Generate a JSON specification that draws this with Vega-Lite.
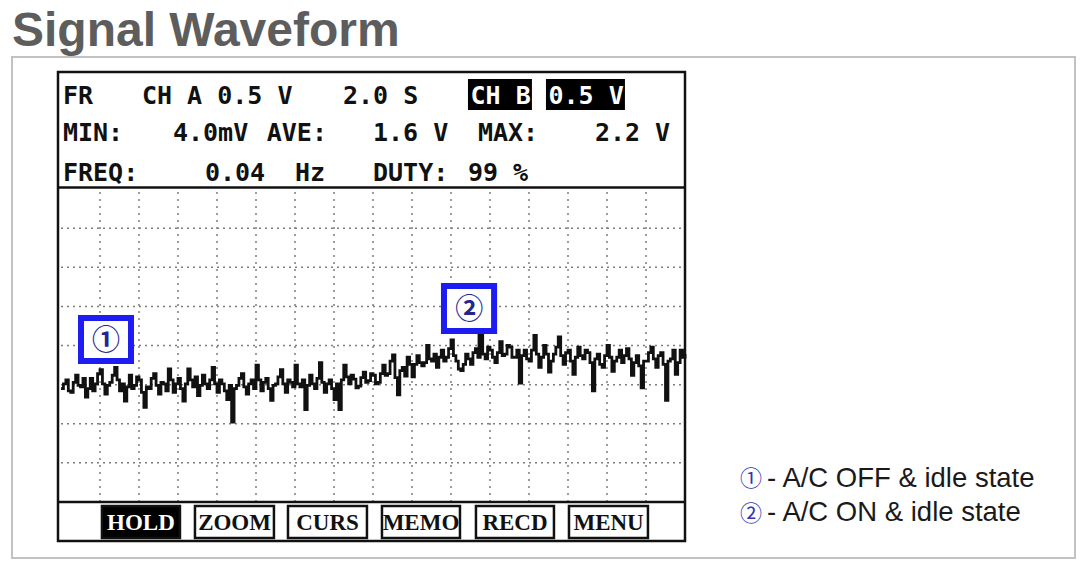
{
  "$schema": "https://vega.github.io/schema/vega-lite/v6.json",
  "width": 1063,
  "height": 501,
  "autosize": {"type": "none"},
  "padding": {"left": 12, "top": 57, "right": 11, "bottom": 12},
  "background": "white",
  "config": {"view": {"stroke": "#c2c2c2", "strokeWidth": 2}},
  "title": {"text": "Signal Waveform", "anchor": "start", "frame": "group", "fontSize": 48, "font": "Liberation Sans", "fontWeight": "bold", "color": "#5d5d5d", "offset": 1},
  "datasets": {
    "wave": [
      {"t":0.0,"v":1.45},{"t":0.125,"v":1.51},{"t":0.25,"v":1.56},{"t":0.375,"v":1.42},{"t":0.5,"v":1.40},{"t":0.625,"v":1.53},{"t":0.75,"v":1.62},{"t":0.875,"v":1.49},
      {"t":1.0,"v":1.47},{"t":1.125,"v":1.58},{"t":1.25,"v":1.34},{"t":1.375,"v":1.45},{"t":1.5,"v":1.58},{"t":1.625,"v":1.42},{"t":1.75,"v":1.51},{"t":1.875,"v":1.64},
      {"t":2.0,"v":1.69},{"t":2.125,"v":1.51},{"t":2.25,"v":1.38},{"t":2.375,"v":1.49},{"t":2.5,"v":1.53},{"t":2.625,"v":1.62},{"t":2.75,"v":1.72},{"t":2.875,"v":1.56},
      {"t":3.0,"v":1.42},{"t":3.125,"v":1.51},{"t":3.25,"v":1.29},{"t":3.375,"v":1.47},{"t":3.5,"v":1.62},{"t":3.625,"v":1.45},{"t":3.75,"v":1.49},{"t":3.875,"v":1.60},
      {"t":4.0,"v":1.56},{"t":4.125,"v":1.40},{"t":4.25,"v":1.21},{"t":4.375,"v":1.47},{"t":4.5,"v":1.45},{"t":4.625,"v":1.58},{"t":4.75,"v":1.64},{"t":4.875,"v":1.49},
      {"t":5.0,"v":1.38},{"t":5.125,"v":1.53},{"t":5.25,"v":1.51},{"t":5.375,"v":1.42},{"t":5.5,"v":1.70},{"t":5.625,"v":1.56},{"t":5.75,"v":1.40},{"t":5.875,"v":1.51},
      {"t":6.0,"v":1.58},{"t":6.125,"v":1.45},{"t":6.25,"v":1.29},{"t":6.375,"v":1.51},{"t":6.5,"v":1.70},{"t":6.625,"v":1.56},{"t":6.75,"v":1.47},{"t":6.875,"v":1.60},
      {"t":7.0,"v":1.36},{"t":7.125,"v":1.49},{"t":7.25,"v":1.62},{"t":7.375,"v":1.51},{"t":7.5,"v":1.45},{"t":7.625,"v":1.56},{"t":7.75,"v":1.72},{"t":7.875,"v":1.51},
      {"t":8.0,"v":1.40},{"t":8.125,"v":1.56},{"t":8.25,"v":1.51},{"t":8.375,"v":1.42},{"t":8.5,"v":1.31},{"t":8.625,"v":1.49},{"t":8.75,"v":1.02},{"t":8.875,"v":1.45},
      {"t":9.0,"v":1.49},{"t":9.125,"v":1.58},{"t":9.25,"v":1.64},{"t":9.375,"v":1.47},{"t":9.5,"v":1.38},{"t":9.625,"v":1.51},{"t":9.75,"v":1.56},{"t":9.875,"v":1.45},
      {"t":10.0,"v":1.75},{"t":10.125,"v":1.56},{"t":10.25,"v":1.42},{"t":10.375,"v":1.53},{"t":10.5,"v":1.58},{"t":10.625,"v":1.45},{"t":10.75,"v":1.30},{"t":10.875,"v":1.49},
      {"t":11.0,"v":1.51},{"t":11.125,"v":1.60},{"t":11.25,"v":1.69},{"t":11.375,"v":1.51},{"t":11.5,"v":1.40},{"t":11.625,"v":1.56},{"t":11.75,"v":1.53},{"t":11.875,"v":1.47},
      {"t":12.0,"v":1.75},{"t":12.125,"v":1.51},{"t":12.25,"v":1.47},{"t":12.375,"v":1.56},{"t":12.5,"v":1.18},{"t":12.625,"v":1.49},{"t":12.75,"v":1.62},{"t":12.875,"v":1.51},
      {"t":13.0,"v":1.45},{"t":13.125,"v":1.58},{"t":13.25,"v":1.78},{"t":13.375,"v":1.53},{"t":13.5,"v":1.40},{"t":13.625,"v":1.51},{"t":13.75,"v":1.56},{"t":13.875,"v":1.45},
      {"t":14.0,"v":1.31},{"t":14.125,"v":1.51},{"t":14.25,"v":1.18},{"t":14.375,"v":1.56},{"t":14.5,"v":1.75},{"t":14.625,"v":1.60},{"t":14.75,"v":1.51},{"t":14.875,"v":1.62},
      {"t":15.0,"v":1.57},{"t":15.125,"v":1.46},{"t":15.25,"v":1.48},{"t":15.375,"v":1.59},{"t":15.5,"v":1.66},{"t":15.625,"v":1.53},{"t":15.75,"v":1.55},{"t":15.875,"v":1.64},
      {"t":16.0,"v":1.62},{"t":16.125,"v":1.51},{"t":16.25,"v":1.53},{"t":16.375,"v":1.64},{"t":16.5,"v":1.75},{"t":16.625,"v":1.62},{"t":16.75,"v":1.64},{"t":16.875,"v":1.80},
      {"t":17.0,"v":1.88},{"t":17.125,"v":1.59},{"t":17.25,"v":1.37},{"t":17.375,"v":1.68},{"t":17.5,"v":1.72},{"t":17.625,"v":1.61},{"t":17.75,"v":1.85},{"t":17.875,"v":1.76},
      {"t":18.0,"v":1.60},{"t":18.125,"v":1.76},{"t":18.25,"v":1.87},{"t":18.375,"v":1.78},{"t":18.5,"v":1.74},{"t":18.625,"v":1.78},{"t":18.75,"v":2.00},{"t":18.875,"v":1.83},
      {"t":19.0,"v":1.80},{"t":19.125,"v":1.89},{"t":19.25,"v":1.72},{"t":19.375,"v":1.85},{"t":19.5,"v":1.94},{"t":19.625,"v":1.80},{"t":19.75,"v":1.85},{"t":19.875,"v":1.96},
      {"t":20.0,"v":2.07},{"t":20.125,"v":1.87},{"t":20.25,"v":1.80},{"t":20.375,"v":1.70},{"t":20.5,"v":1.68},{"t":20.625,"v":1.76},{"t":20.75,"v":1.89},{"t":20.875,"v":1.83},
      {"t":21.0,"v":1.76},{"t":21.125,"v":1.91},{"t":21.25,"v":1.96},{"t":21.375,"v":1.85},{"t":21.5,"v":2.13},{"t":21.625,"v":1.89},{"t":21.75,"v":1.83},{"t":21.875,"v":1.98},
      {"t":22.0,"v":1.94},{"t":22.125,"v":1.85},{"t":22.25,"v":1.78},{"t":22.375,"v":1.91},{"t":22.5,"v":2.05},{"t":22.625,"v":1.87},{"t":22.75,"v":1.89},{"t":22.875,"v":2.00},
      {"t":23.0,"v":1.98},{"t":23.125,"v":1.85},{"t":23.25,"v":1.85},{"t":23.375,"v":1.94},{"t":23.5,"v":1.52},{"t":23.625,"v":1.87},{"t":23.75,"v":1.94},{"t":23.875,"v":1.83},
      {"t":24.0,"v":1.80},{"t":24.125,"v":1.94},{"t":24.25,"v":2.13},{"t":24.375,"v":1.89},{"t":24.5,"v":1.72},{"t":24.625,"v":1.85},{"t":24.75,"v":2.00},{"t":24.875,"v":1.89},
      {"t":25.0,"v":1.66},{"t":25.125,"v":1.80},{"t":25.25,"v":1.89},{"t":25.375,"v":1.98},{"t":25.5,"v":2.11},{"t":25.625,"v":1.87},{"t":25.75,"v":1.76},{"t":25.875,"v":1.91},
      {"t":26.0,"v":1.94},{"t":26.125,"v":1.80},{"t":26.25,"v":1.63},{"t":26.375,"v":1.85},{"t":26.5,"v":1.98},{"t":26.625,"v":1.87},{"t":26.75,"v":1.83},{"t":26.875,"v":1.94},
      {"t":27.0,"v":1.91},{"t":27.125,"v":1.78},{"t":27.25,"v":1.42},{"t":27.375,"v":1.83},{"t":27.5,"v":1.89},{"t":27.625,"v":1.76},{"t":27.75,"v":1.72},{"t":27.875,"v":1.87},
      {"t":28.0,"v":2.00},{"t":28.125,"v":1.85},{"t":28.25,"v":1.67},{"t":28.375,"v":1.80},{"t":28.5,"v":1.85},{"t":28.625,"v":1.94},{"t":28.75,"v":1.78},{"t":28.875,"v":1.87},
      {"t":29.0,"v":1.96},{"t":29.125,"v":1.83},{"t":29.25,"v":1.62},{"t":29.375,"v":1.78},{"t":29.5,"v":1.87},{"t":29.625,"v":1.74},{"t":29.75,"v":1.46},{"t":29.875,"v":1.80},
      {"t":30.0,"v":1.80},{"t":30.125,"v":1.91},{"t":30.25,"v":1.98},{"t":30.375,"v":1.83},{"t":30.5,"v":1.72},{"t":30.625,"v":1.87},{"t":30.75,"v":1.91},{"t":30.875,"v":1.76},
      {"t":31.0,"v":1.30},{"t":31.125,"v":1.80},{"t":31.25,"v":1.83},{"t":31.375,"v":1.94},{"t":31.5,"v":1.63},{"t":31.625,"v":1.78},{"t":31.75,"v":1.94},{"t":31.875,"v":1.85},
      {"t":32.0,"v":1.89}
    ],
    "vgrid": [
      {"t":2,"v":0,"v2":4},{"t":4,"v":0,"v2":4},{"t":6,"v":0,"v2":4},{"t":8,"v":0,"v2":4},{"t":10,"v":0,"v2":4},{"t":12,"v":0,"v2":4},{"t":14,"v":0,"v2":4},{"t":16,"v":0,"v2":4},
      {"t":18,"v":0,"v2":4},{"t":20,"v":0,"v2":4},{"t":22,"v":0,"v2":4},{"t":24,"v":0,"v2":4},{"t":26,"v":0,"v2":4},{"t":28,"v":0,"v2":4},{"t":30,"v":0,"v2":4}
    ],
    "hgrid": [
      {"t":0,"t2":32,"v":0.5},{"t":0,"t2":32,"v":1.0},{"t":0,"t2":32,"v":1.5},{"t":0,"t2":32,"v":2.0},{"t":0,"t2":32,"v":2.5},{"t":0,"t2":32,"v":3.0},{"t":0,"t2":32,"v":3.5}
    ],
    "frame": [{"t":-0.154,"t2":32.0,"v":5.495,"v2":-0.498}],
    "separators": [{"t":-0.154,"t2":32.0,"v":4.02},{"t":-0.154,"t2":32.0,"v":0.0}],
    "connector": [{"t":21.44,"v":2.185,"v2":1.90}],
    "boxes": [{"t":1.026,"t2":3.59,"v":2.351,"v2":1.802},{"t":19.64,"t2":22.21,"v":2.760,"v2":2.185}],
    "boxDigits": [{"t":2.31,"v":2.045,"text":"①"},{"t":20.93,"v":2.44,"text":"②"}],
    "header": [
      {"t":0.10,"v":5.086,"text":"FR"},{"t":4.15,"v":5.086,"text":"CH A 0.5 V"},{"t":14.46,"v":5.086,"text":"2.0 S"},
      {"t":0.10,"v":4.613,"text":"MIN:"},{"t":5.74,"v":4.613,"text":"4.0mV"},{"t":10.55,"v":4.613,"text":"AVE:"},{"t":16.0,"v":4.613,"text":"1.6 V"},{"t":21.38,"v":4.613,"text":"MAX:"},{"t":27.38,"v":4.613,"text":"2.2 V"},
      {"t":0.10,"v":4.102,"text":"FREQ:"},{"t":7.38,"v":4.102,"text":"0.04"},{"t":12.0,"v":4.102,"text":"Hz"},{"t":16.0,"v":4.102,"text":"DUTY:"},{"t":20.87,"v":4.102,"text":"99"},{"t":23.18,"v":4.102,"text":"%"}
    ],
    "inverseBoxes": [{"t":20.87,"t2":24.15,"v":5.406,"v2":5.010},{"t":24.87,"t2":28.92,"v":5.406,"v2":5.010}],
    "inverseText": [{"t":21.0,"v":5.086,"text":"CH B"},{"t":25.0,"v":5.086,"text":"0.5 V"}],
    "buttons": [
      {"label":"HOLD","t":2.10,"t2":6.10,"v":-0.051,"v2":-0.46},
      {"label":"ZOOM","t":6.87,"t2":10.92,"v":-0.051,"v2":-0.46},
      {"label":"CURS","t":11.64,"t2":15.69,"v":-0.051,"v2":-0.46},
      {"label":"MEMO","t":16.46,"t2":20.46,"v":-0.051,"v2":-0.46},
      {"label":"RECD","t":21.28,"t2":25.28,"v":-0.051,"v2":-0.46},
      {"label":"MENU","t":26.05,"t2":30.10,"v":-0.051,"v2":-0.46}
    ],
    "buttonText": [
      {"text":"HOLD","t":4.10,"v":-0.36},{"text":"ZOOM","t":8.90,"v":-0.36},{"text":"CURS","t":13.67,"v":-0.36},
      {"text":"MEMO","t":18.46,"v":-0.36},{"text":"RECD","t":23.28,"v":-0.36},{"text":"MENU","t":28.08,"v":-0.36}
    ],
    "legendDigits": [{"t":35.38,"v":0.30,"text":"①"},{"t":35.38,"v":-0.148,"text":"②"}],
    "legendText": [{"t":36.21,"v":0.192,"text":"- A/C OFF & idle state"},{"t":36.21,"v":-0.243,"text":"- A/C ON & idle state"}]
  },
  "encoding": {
    "x": {"field": "t", "type": "quantitative", "scale": {"domain": [-2.513, 52.0], "nice": false, "zero": false}, "axis": null},
    "y": {"field": "v", "type": "quantitative", "scale": {"domain": [-0.7157, 5.687], "nice": false, "zero": false}, "axis": null}
  },
  "layer": [
    {"data": {"name": "hgrid"}, "mark": {"type": "rule", "color": "#7d7d7d", "strokeWidth": 1.5, "strokeDash": [2, 4]}, "encoding": {"x2": {"field": "t2"}}},
    {"data": {"name": "vgrid"}, "mark": {"type": "rule", "color": "#7d7d7d", "strokeWidth": 1.5, "strokeDash": [2, 5]}, "encoding": {"y2": {"field": "v2"}}},
    {"data": {"name": "wave"}, "mark": {"type": "line", "interpolate": "step-after", "color": "#111111", "strokeWidth": 2.8}, "encoding": {}},
    {"data": {"name": "connector"}, "mark": {"type": "rule", "color": "#111111", "strokeWidth": 3}, "encoding": {"y2": {"field": "v2"}}},
    {"data": {"name": "boxes"}, "mark": {"type": "rect", "fill": "white", "stroke": "#1d1df2", "strokeWidth": 6}, "encoding": {"x2": {"field": "t2"}, "y2": {"field": "v2"}}},
    {"data": {"name": "boxDigits"}, "mark": {"type": "text", "font": "Noto Sans CJK KR", "fontWeight": "bold", "fontSize": 28, "color": "#25258f", "align": "center", "baseline": "middle"}, "encoding": {"text": {"field": "text"}}},
    {"data": {"name": "frame"}, "mark": {"type": "rect", "fill": null, "fillOpacity": 0, "stroke": "#111111", "strokeWidth": 2.5}, "encoding": {"x2": {"field": "t2"}, "y2": {"field": "v2"}}},
    {"data": {"name": "separators"}, "mark": {"type": "rule", "color": "#111111", "strokeWidth": 2.5}, "encoding": {"x2": {"field": "t2"}}},
    {"data": {"name": "header"}, "mark": {"type": "text", "font": "DejaVu Sans Mono", "fontWeight": "bold", "fontSize": 25, "color": "#111111", "align": "left", "baseline": "alphabetic"}, "encoding": {"text": {"field": "text"}}},
    {"data": {"name": "inverseBoxes"}, "mark": {"type": "rect", "fill": "#000000"}, "encoding": {"x2": {"field": "t2"}, "y2": {"field": "v2"}}},
    {"data": {"name": "inverseText"}, "mark": {"type": "text", "font": "DejaVu Sans Mono", "fontWeight": "bold", "fontSize": 25, "color": "#ffffff", "align": "left", "baseline": "alphabetic"}, "encoding": {"text": {"field": "text"}}},
    {"data": {"name": "buttons"}, "mark": {"type": "rect", "stroke": "#111111", "strokeWidth": 2.5}, "encoding": {"x2": {"field": "t2"}, "y2": {"field": "v2"}, "fill": {"condition": {"test": "datum.label === 'HOLD'", "value": "#000000"}, "value": "#ffffff"}}},
    {"data": {"name": "buttonText"}, "mark": {"type": "text", "font": "Liberation Serif", "fontWeight": "bold", "fontSize": 23, "align": "center", "baseline": "alphabetic"}, "encoding": {"text": {"field": "text"}, "color": {"condition": {"test": "datum.text === 'HOLD'", "value": "#ffffff"}, "value": "#111111"}}},
    {"data": {"name": "legendDigits"}, "mark": {"type": "text", "font": "Noto Sans CJK KR", "fontSize": 22, "color": "#3434b4", "align": "center", "baseline": "middle"}, "encoding": {"text": {"field": "text"}}},
    {"data": {"name": "legendText"}, "mark": {"type": "text", "font": "Liberation Sans", "fontSize": 27.5, "color": "#1a1a1a", "align": "left", "baseline": "alphabetic"}, "encoding": {"text": {"field": "text"}}}
  ]
}
